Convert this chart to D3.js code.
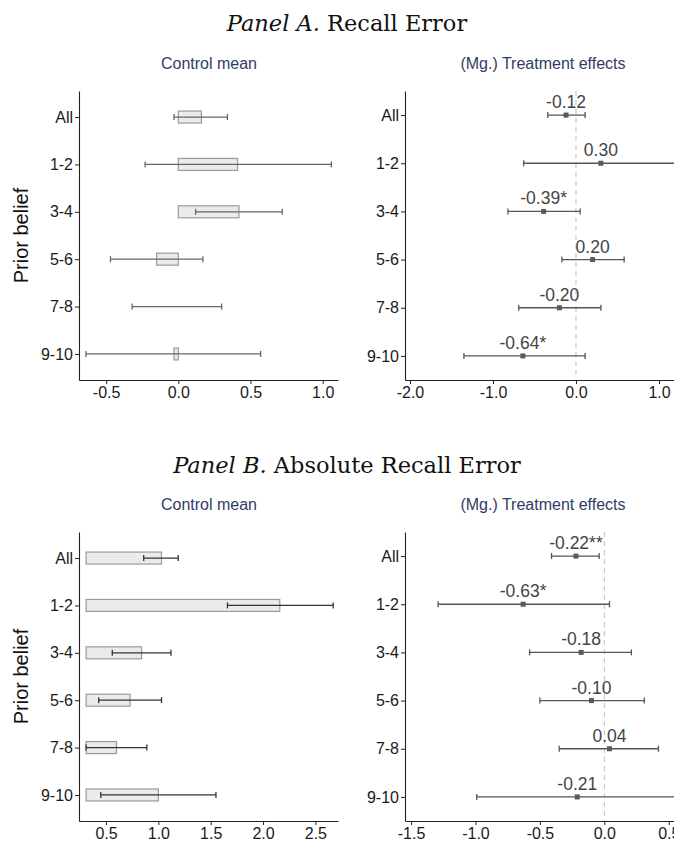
<!DOCTYPE html>
<html>
<head>
<meta charset="utf-8">
<script src="https://cdn.jsdelivr.net/npm/d3@7"></script>
<style>
  html, body { margin: 0; padding: 0; background: #fff; }
  svg { display: block; }
</style>
</head>
<body>
<svg id="chart" width="674" height="844"></svg>
<script>
// ---------------- DATA ----------------
const categories = ["All", "1-2", "3-4", "5-6", "7-8", "9-10"];

// Panel A: Recall Error
const aControlMean = [0.16, 0.41, 0.42, -0.15, 0.00, -0.03];
const aControlLo   = [-0.03, -0.23, 0.12, -0.47, -0.32, -0.64];
const aControlHi   = [0.34, 1.06, 0.72, 0.17, 0.30, 0.57];
const aEffect      = [-0.12, 0.30, -0.39, 0.20, -0.20, -0.64];
const aEffectLo    = [-0.34, -0.63, -0.82, -0.17, -0.69, -1.35];
const aEffectHi    = [0.11, 1.23, 0.05, 0.58, 0.30, 0.11];
const aStars       = ["", "", "*", "", "", "*"];
const aControlTicks = [-0.5, 0.0, 0.5, 1.0];
const aEffectTicks  = [-2.0, -1.0, 0.0, 1.0];
const aControlBase  = 0;

// Panel B: Absolute Recall Error
const bControlMean = [1.03, 2.16, 0.84, 0.73, 0.60, 1.00];
const bControlLo   = [0.86, 1.66, 0.56, 0.43, 0.31, 0.45];
const bControlHi   = [1.19, 2.67, 1.12, 1.03, 0.89, 1.55];
const bEffect      = [-0.22, -0.63, -0.18, -0.10, 0.04, -0.21];
const bEffectLo    = [-0.41, -1.29, -0.58, -0.50, -0.35, -0.99];
const bEffectHi    = [-0.04, 0.04, 0.21, 0.31, 0.42, 0.57];
const bStars       = ["**", "*", "", "", "", ""];
const bControlTicks = [0.5, 1.0, 1.5, 2.0, 2.5];
const bEffectTicks  = [-1.5, -1.0, -0.5, 0.0, 0.5];
const bControlBase  = 0.31;

const panelTitles = [["Panel A.", " Recall Error"], ["Panel B.", " Absolute Recall Error"]];
const subTitles = ["Control mean", "(Mg.) Treatment effects"];
const yAxisTitle = "Prior belief";

// ---------------- DRAW ----------------
const fmtLocale = d3.formatLocale({decimal: ".", thousands: ",", grouping: [3], currency: ["", ""], minus: "-"});
const f1 = fmtLocale.format(".1f");
const f2 = fmtLocale.format(".2f");

const svg = d3.select("#chart");
const sans = "'Liberation Sans', Arial, Helvetica, sans-serif";

function drawAxes(g, x, y, ticks, top, bottom, left) {
  const xa = g.append("g").attr("transform", `translate(0,${bottom})`)
    .call(d3.axisBottom(x).tickValues(ticks).tickFormat(f1).tickSize(4).tickSizeOuter(0).tickPadding(3));
  const ya = g.append("g").attr("transform", `translate(${left},0)`)
    .call(d3.axisLeft(y).tickSize(4).tickSizeOuter(0).tickPadding(2));
  [xa, ya].forEach(a => {
    a.select(".domain").attr("stroke", "#222").attr("stroke-width", 1.1);
    a.selectAll(".tick line").attr("stroke", "#222").attr("stroke-width", 1);
    a.selectAll(".tick text").attr("fill", "#1a1a1a").style("font-family", sans).style("font-size", "16px");
  });
}

function drawPanel(cfg) {
  const g = svg.append("g");
  const {top, bottom} = cfg;

  // Title
  const t = g.append("text").attr("x", 347).attr("y", cfg.titleY)
    .attr("text-anchor", "middle")
    .style("font-family", "'DejaVu Serif', 'Liberation Serif', serif")
    .style("font-size", "22.5px").attr("fill", "#111");
  t.append("tspan").style("font-style", "italic").text(cfg.title[0]);
  t.append("tspan").text(cfg.title[1]);

  // subtitles
  g.append("text").attr("x", 209).attr("y", cfg.subY).attr("text-anchor", "middle")
    .style("font-family", sans).style("font-size", "16px").attr("fill", "#2f3c66").text(subTitles[0]);
  g.append("text").attr("x", 543).attr("y", cfg.subY).attr("text-anchor", "middle")
    .style("font-family", sans).style("font-size", "16px").attr("fill", "#2f3c66").text(subTitles[1]);

  // y axis title
  g.append("text").attr("transform", `translate(28,${(top + bottom) / 2}) rotate(-90)`)
    .attr("text-anchor", "middle").style("font-family", sans).style("font-size", "20px")
    .attr("fill", "#111").text(yAxisTitle);

  // ----- Left: control mean bars -----
  const xL = d3.scaleLinear().domain(cfg.leftDomain).range([79, 338]);
  const yL = d3.scalePoint().domain(categories).range([top, bottom]).padding(0.55);
  const rowsL = categories.map((c, i) => ({c, m: cfg.cMean[i], lo: cfg.cLo[i], hi: cfg.cHi[i]}));
  const bh = 12;
  g.append("g").selectAll("rect").data(rowsL).join("rect")
    .attr("x", d => Math.min(xL(cfg.base), xL(d.m)))
    .attr("width", d => Math.abs(xL(d.m) - xL(cfg.base)))
    .attr("y", d => yL(d.c) - bh / 2).attr("height", bh)
    .attr("fill", "#ebebeb").attr("stroke", "#9a9a9a").attr("stroke-width", 1.2);
  const eb = g.append("g").attr("stroke", cfg.leftErr).attr("stroke-width", 1.3).attr("fill", "none");
  rowsL.forEach(d => {
    const yy = yL(d.c);
    eb.append("line").attr("x1", xL(d.lo)).attr("x2", xL(d.hi)).attr("y1", yy).attr("y2", yy);
    eb.append("line").attr("x1", xL(d.lo)).attr("x2", xL(d.lo)).attr("y1", yy - 3).attr("y2", yy + 3);
    eb.append("line").attr("x1", xL(d.hi)).attr("x2", xL(d.hi)).attr("y1", yy - 3).attr("y2", yy + 3);
  });
  drawAxes(g, xL, yL, cfg.leftTicks, top, bottom, 79);

  // ----- Right: treatment effects -----
  const xR = d3.scaleLinear().domain(cfg.rightDomain).range([405, 681]);
  const yR = d3.scalePoint().domain(categories).range([top, bottom]).padding(0.5);
  g.append("line").attr("x1", xR(0)).attr("x2", xR(0)).attr("y1", top).attr("y2", bottom)
    .attr("stroke", "#bdbdbd").attr("stroke-width", 1).attr("stroke-dasharray", "5,4");
  const rowsR = categories.map((c, i) => ({c, e: cfg.eff[i], lo: cfg.eLo[i], hi: cfg.eHi[i], s: cfg.stars[i]}));
  const eb2 = g.append("g").attr("stroke", "#555").attr("stroke-width", 1.3).attr("fill", "none");
  rowsR.forEach(d => {
    const yy = yR(d.c);
    eb2.append("line").attr("x1", xR(d.lo)).attr("x2", xR(d.hi)).attr("y1", yy).attr("y2", yy);
    eb2.append("line").attr("x1", xR(d.lo)).attr("x2", xR(d.lo)).attr("y1", yy - 3).attr("y2", yy + 3);
    eb2.append("line").attr("x1", xR(d.hi)).attr("x2", xR(d.hi)).attr("y1", yy - 3).attr("y2", yy + 3);
  });
  g.append("g").selectAll("rect").data(rowsR).join("rect")
    .attr("x", d => xR(d.e) - 2.5).attr("y", d => yR(d.c) - 2.5)
    .attr("width", 5).attr("height", 5).attr("fill", "#5a5a5a");
  g.append("g").selectAll("text").data(rowsR).join("text")
    .attr("x", d => xR(d.e)).attr("y", d => yR(d.c) - 7)
    .attr("text-anchor", "middle").style("font-family", sans).style("font-size", "17.5px")
    .attr("fill", "#444").text(d => f2(d.e) + d.s);
  drawAxes(g, xR, yR, cfg.rightTicks, top, bottom, 405);
}

drawPanel({
  title: panelTitles[0], titleY: 31, subY: 69, top: 91, bottom: 380,
  leftDomain: [-0.688, 1.106], rightDomain: [-2.06, 1.265],
  cMean: aControlMean, cLo: aControlLo, cHi: aControlHi, base: aControlBase,
  eff: aEffect, eLo: aEffectLo, eHi: aEffectHi, stars: aStars,
  leftTicks: aControlTicks, rightTicks: aEffectTicks, leftErr: "#666"
});
drawPanel({
  title: panelTitles[1], titleY: 473, subY: 510, top: 532, bottom: 821,
  leftDomain: [0.242, 2.716], rightDomain: [-1.547, 0.595],
  cMean: bControlMean, cLo: bControlLo, cHi: bControlHi, base: bControlBase,
  eff: bEffect, eLo: bEffectLo, eHi: bEffectHi, stars: bStars,
  leftTicks: bControlTicks, rightTicks: bEffectTicks, leftErr: "#333"
});
</script>
</body>
</html>
